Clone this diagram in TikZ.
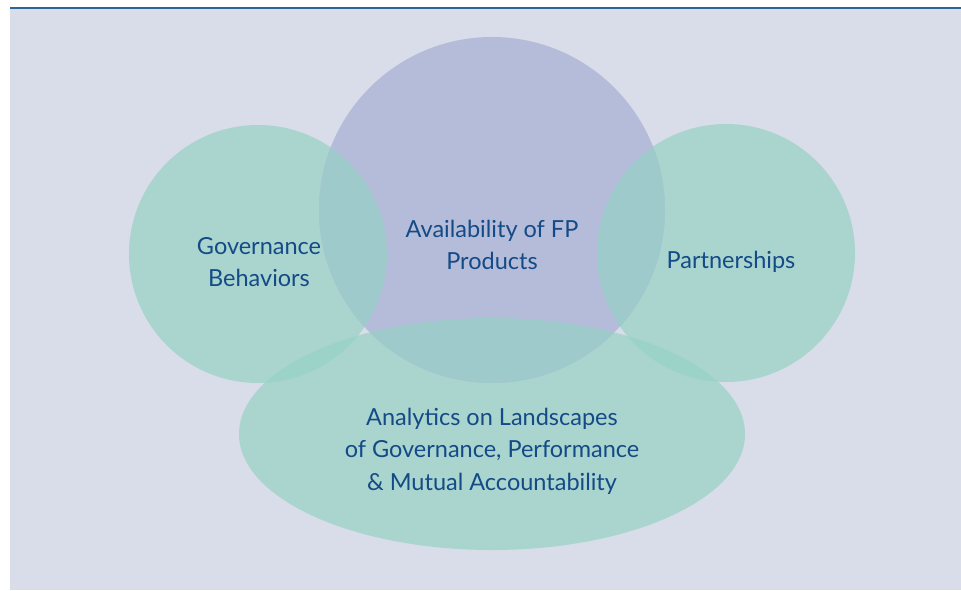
\documentclass[tikz,border=0pt]{standalone}
\usepackage{fontspec}
\setmainfont{Lato}
\definecolor{panelbg}{HTML}{D9DCE9}
\definecolor{rulecol}{HTML}{2C6699}
\definecolor{tealfill}{HTML}{AAD5CF}
\definecolor{lavfill}{HTML}{B5BCDA}
\definecolor{mixfill}{HTML}{9FCACB}
\definecolor{greenmix}{HTML}{9CD3C9}
\definecolor{labelcol}{HTML}{144A86}
\tikzset{
  label text/.style={text=labelcol, align=center, font=\fontsize{23.5}{32.5}\selectfont},
}
\newcommand{\leftdisc}{(258,254) circle[radius=129pt]}
\newcommand{\rightdisc}{(726,253) circle[radius=129pt]}
\newcommand{\topdisc}{(492,210) circle[radius=173pt]}
\newcommand{\basedisc}{(492,434) ellipse[x radius=253pt, y radius=116pt]}
\begin{document}
\begin{tikzpicture}[x=1pt,y=-1pt]
		\useasboundingbox (0,0) rectangle (961,590);
		\fill[panelbg] (10,9) rectangle (961,590);
		\draw[rulecol, line width=2pt] (10,8) -- (961,8);

		\fill[tealfill] \leftdisc;
		\fill[tealfill] \rightdisc;
		\fill[tealfill] \basedisc;
		\fill[lavfill] \topdisc;

		% teal on teal
		\begin{scope}
			\clip \basedisc;
			\fill[greenmix] \leftdisc;
			\fill[greenmix] \rightdisc;
		\end{scope}
		% teal on lavender
		\begin{scope}
			\clip \topdisc;
			\fill[mixfill] \leftdisc;
			\fill[mixfill] \rightdisc;
			\fill[mixfill] \basedisc;
		\end{scope}

		\node[label text] (gov) at (259,262) {Governance\\Behaviors};
		\node[label text] (avail) at (492,245) {Availability of FP\\Products};
		\node[label text] (partner) at (731,262) {Partnerships};
		\node[label text] (analytics) at (492,451) {Analytics on Landscapes\\of Governance, Performance\\\& Mutual Accountability};
	\end{tikzpicture}
\end{document}
